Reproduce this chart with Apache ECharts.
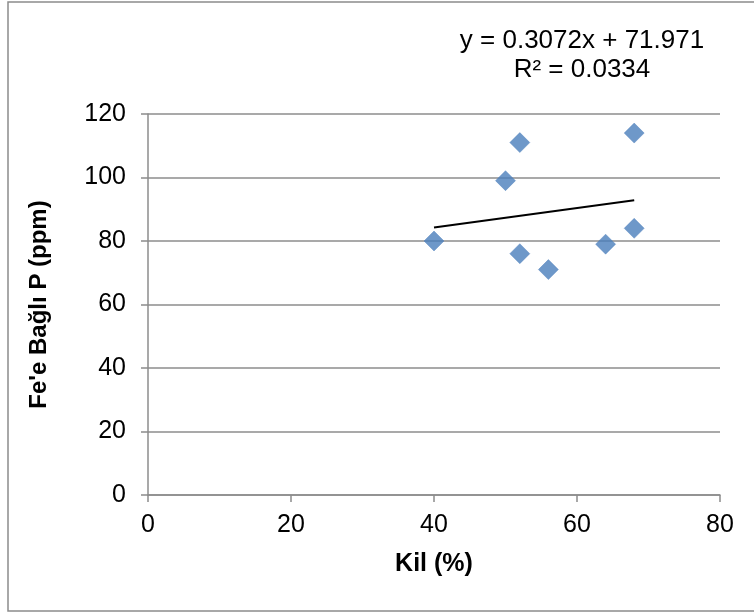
<!DOCTYPE html>
<html><head><meta charset="utf-8">
<script src="https://cdn.jsdelivr.net/npm/echarts@6/dist/echarts.min.js"></script>
<style>html,body{margin:0;padding:0;background:#fff}#c{width:754px;height:612px}</style>
</head><body><div id="c"></div>
<script>
const clayPct = [40, 50, 52, 52, 56, 64, 68, 68];
const feBoundP = [80, 99, 111, 76, 71, 79, 114, 84];
const xTicks = [0, 20, 40, 60, 80];
const yTicks = [0, 20, 40, 60, 80, 100, 120];
const trendSlope = 0.3072;
const trendIntercept = 71.971;
const rSquared = 0.0334;

const xMin = Math.min(...clayPct), xMax = Math.max(...clayPct);
const trend = [[xMin, trendSlope * xMin + trendIntercept], [xMax, trendSlope * xMax + trendIntercept]];

const chart = echarts.init(document.getElementById('c'), null, {renderer: 'canvas'});
const font = '"Liberation Sans", Arial, sans-serif';
chart.setOption({
  animation: false,
  backgroundColor: '#fff',
  grid: {left: 148, right: 34, top: 114, bottom: 117},
  graphic: [
    {type: 'rect', shape: {x: 8, y: 2, width: 760, height: 609}, style: {fill: 'none', stroke: '#8c8c8c', lineWidth: 1.5}, silent: true},
    {type: 'text', x: 582, y: 41, style: {text: 'y = ' + trendSlope + 'x + ' + trendIntercept, font: '26px ' + font, fill: '#000', textAlign: 'center', textVerticalAlign: 'middle'}},
    {type: 'text', x: 582, y: 70, style: {text: 'R² = ' + rSquared, font: '26px ' + font, fill: '#000', textAlign: 'center', textVerticalAlign: 'middle'}}
  ],
  xAxis: {
    type: 'value', min: xTicks[0], max: xTicks[xTicks.length - 1], interval: 20,
    name: 'Kil (%)', nameLocation: 'middle', nameGap: 57,
    nameTextStyle: {fontFamily: font, fontSize: 25, fontWeight: 'bold', color: '#000'},
    axisLine: {lineStyle: {color: '#8c8c8c', width: 1.5}},
    axisTick: {show: true, inside: false, length: 7, lineStyle: {color: '#8c8c8c', width: 1.5}},
    axisLabel: {fontFamily: font, fontSize: 25, color: '#000', margin: 18},
    splitLine: {show: false}
  },
  yAxis: {
    type: 'value', min: yTicks[0], max: yTicks[yTicks.length - 1], interval: 20,
    name: "Fe'e Bağlı P (ppm)", nameLocation: 'middle', nameGap: 97, nameRotate: 90,
    nameTextStyle: {fontFamily: font, fontSize: 24, fontWeight: 'bold', color: '#000'},
    axisLine: {show: true, lineStyle: {color: '#8c8c8c', width: 1.5}},
    axisTick: {show: true, inside: false, length: 7, lineStyle: {color: '#8c8c8c', width: 1.5}},
    axisLabel: {fontFamily: font, fontSize: 25, color: '#000', margin: 22},
    splitLine: {show: true, lineStyle: {color: '#8c8c8c', width: 1.5}}
  },
  series: [
    {type: 'scatter', data: clayPct.map((x, i) => [x, feBoundP[i]]), symbol: 'diamond', symbolSize: 20,
     itemStyle: {color: '#4a7ebb', borderColor: '#4a7ebb', borderWidth: 0.5}, z: 3},
    {type: 'line', data: trend, showSymbol: false, symbol: 'none', lineStyle: {color: '#000', width: 2}, z: 4}
  ]
});
</script></body></html>
